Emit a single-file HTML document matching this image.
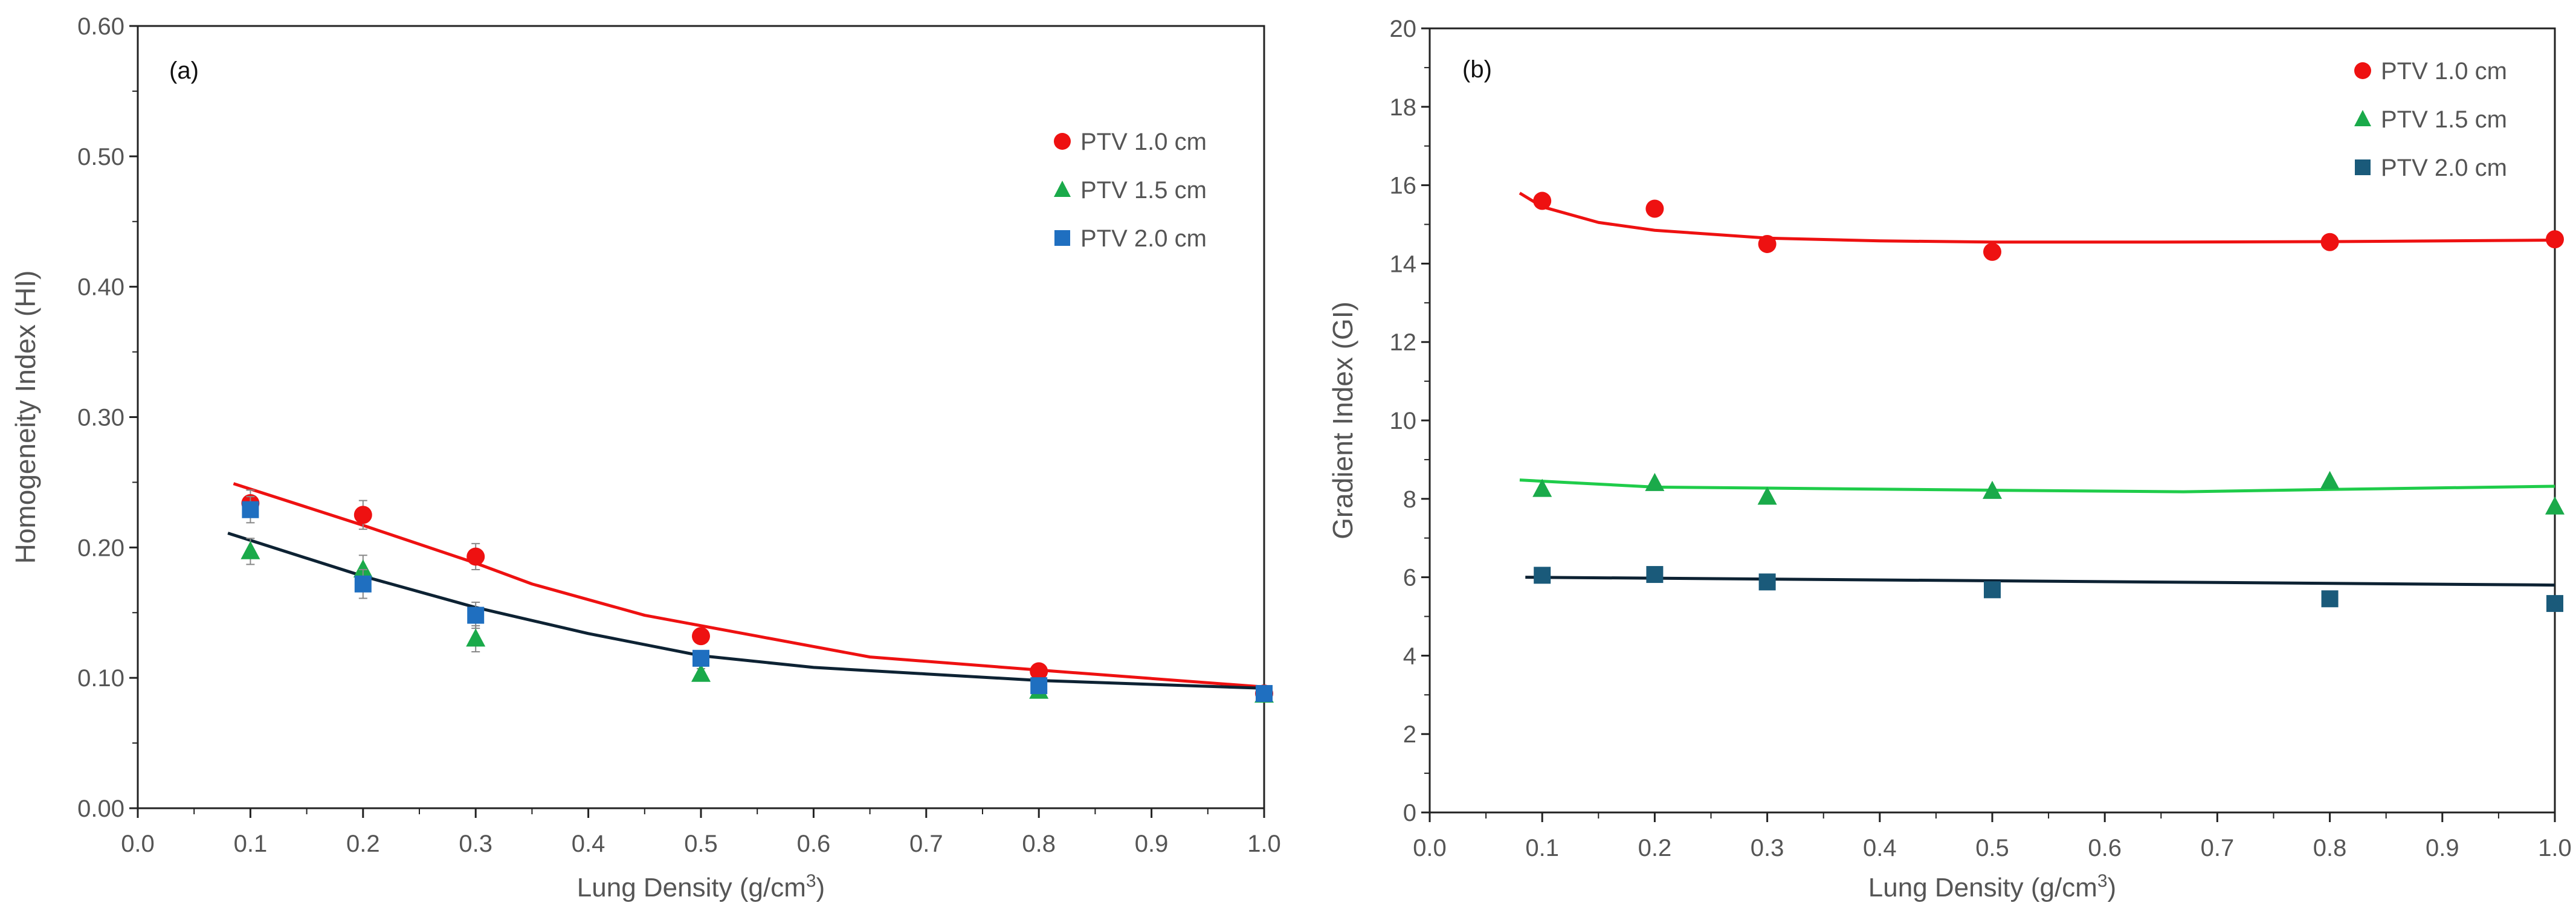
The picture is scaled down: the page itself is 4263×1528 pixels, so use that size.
<!DOCTYPE html>
<html><head><meta charset="utf-8"><style>
body{margin:0;background:#fff}
svg{display:block;font-family:"Liberation Sans",sans-serif}
</style></head><body>
<svg id="c" width="4263" height="1528" viewBox="0 0 4263 1528" xmlns="http://www.w3.org/2000/svg"></svg>
<script>
const xCats=[0.1,0.2,0.3,0.5,0.8,1.0];
const hiPtv10=[0.234,0.225,0.193,0.132,0.105,0.088];
const hiPtv15=[0.197,0.183,0.130,0.103,0.090,0.087];
const hiPtv20=[0.229,0.172,0.148,0.115,0.094,0.088];
const hiErr=[0.010,0.011,0.010,0.004,0.003,0.003];
const hiFitX10=[0.085,0.2,0.3,0.35,0.45,0.55,0.65,0.8,1.0];
const hiFitY10=[0.249,0.217,0.188,0.172,0.148,0.132,0.116,0.106,0.093];
const hiFitX20=[0.08,0.2,0.3,0.4,0.5,0.6,0.7,0.8,0.9,1.0];
const hiFitY20=[0.211,0.178,0.154,0.134,0.117,0.108,0.103,0.098,0.095,0.092];
const giPtv10=[15.6,15.4,14.5,14.3,14.55,14.62];
const giPtv15=[8.25,8.4,8.05,8.2,8.45,7.8];
const giPtv20=[6.05,6.07,5.88,5.68,5.45,5.33];
const giFitX10=[0.08,0.1,0.15,0.2,0.3,0.4,0.5,0.65,0.8,1.0];
const giFitY10=[15.8,15.45,15.05,14.85,14.65,14.58,14.55,14.55,14.56,14.6];
const giFitX15=[0.08,0.2,0.5,0.67,0.8,1.0];
const giFitY15=[8.48,8.3,8.22,8.18,8.24,8.32];
const giFitX20=[0.085,1.0];
const giFitY20=[6.0,5.8];
const xTicks=[0,0.1,0.2,0.3,0.4,0.5,0.6,0.7,0.8,0.9,1.0];
const hiTicks=[0,0.1,0.2,0.3,0.4,0.5,0.6];
const giTicks=[0,2,4,6,8,10,12,14,16,18,20];
const legendLabels=["PTV 1.0 cm","PTV 1.5 cm","PTV 2.0 cm"];

const NS="http://www.w3.org/2000/svg";
const svg=document.getElementById('c');
function mk(tag,attrs,parent,text){const e=document.createElementNS(NS,tag);for(const k in attrs)e.setAttribute(k,attrs[k]);if(text!==undefined)e.textContent=text;(parent||svg).appendChild(e);return e;}

function panel(p){
  const g=mk('g',{});
  
  
  const sx=v=>p.x0+(v-0)/(1-0)*(p.x1-p.x0);
  const sy=v=>p.y1-(v-p.ymin)/(p.ymax-p.ymin)*(p.y1-p.y0);
  const frame=mk('rect',{x:p.x0,y:p.y0,width:p.x1-p.x0,height:p.y1-p.y0,fill:'none',stroke:'#222','stroke-width':3},g);
  
  
  for(let i=0;i<p.yt.length;i++){
    const v=p.yt[i];const y=sy(v);
    mk('line',{x1:p.x0-14,x2:p.x0,y1:y,y2:y,stroke:'#222','stroke-width':3},g);
    const t=mk('text',{x:p.x0-22,y:y+14,'text-anchor':'end','font-size':40,fill:'#555'},g,p.fmt(v));
    
    
    if(i<p.yt.length-1){const ym=sy((v+p.yt[i+1])/2);mk('line',{x1:p.x0-9,x2:p.x0,y1:ym,y2:ym,stroke:'#222','stroke-width':2},g);}
  }
  for(let i=0;i<xTicks.length;i++){
    const v=xTicks[i];const x=sx(v);
    mk('line',{x1:x,x2:x,y1:p.y1,y2:p.y1+16,stroke:'#222','stroke-width':3},g);
    const t=mk('text',{x:x,y:p.y1+72,'text-anchor':'middle','font-size':40,fill:'#555'},g,v.toFixed(1));
    
    
    if(i<xTicks.length-1){const xm=sx(v+0.05);mk('line',{x1:xm,x2:xm,y1:p.y1,y2:p.y1+10,stroke:'#222','stroke-width':2},g);}
  }
  const xt=mk('text',{x:(p.x0+p.x1)/2,y:1484,'text-anchor':'middle','font-size':44,fill:'#555'},g);
  
  
  xt.innerHTML='Lung Density (g/cm<tspan baseline-shift="super" font-size="30">3</tspan>)';
  const yt=mk('text',{x:p.ytx,y:(p.y0+p.y1)/2,'text-anchor':'middle','font-size':46,fill:'#555',transform:`rotate(-90 ${p.ytx} ${(p.y0+p.y1)/2})`},g,p.ytitle);
  
  
  const lb=mk('text',{x:p.lx,y:p.ly,'font-size':40,fill:'#111'},g,p.label);
  
  
  p.fits.forEach(f=>{
    const d=f.xs.map((x,i)=>(i?'L':'M')+sx(x)+','+sy(f.ys[i])).join(' ');
    const l=mk('path',{d:d,fill:'none',stroke:f.c,'stroke-width':5,'stroke-linejoin':'round'},g);
    
    
  });
  const colors=['#ee1111','#1aaa4a',p.sqc];
  p.series.forEach((s,si)=>{
    s.forEach((v,i)=>{
      const x=sx(xCats[i]),y=sy(v);
      if(p.err){const e=p.err[i];const ya=sy(v+e),yb=sy(v-e);
        mk('path',{d:`M${x},${ya}V${yb}M${x-7},${ya}H${x+7}M${x-7},${yb}H${x+7}`,stroke:'#888','stroke-width':2,fill:'none'},g);}
      let m;
      if(si===0)m=mk('circle',{cx:x,cy:y,r:15,fill:colors[0]},g);
      else if(si===1)m=mk('polygon',{points:`${x},${y-17} ${x-16},${y+13} ${x+16},${y+13}`,fill:colors[1]},g);
      else m=mk('rect',{x:x-14,y:y-14,width:28,height:28,fill:colors[2]},g);
      
      
    });
  });
  legendLabels.forEach((lab,i)=>{
    const y=p.legY[i],x=p.legX;
    let m;
    if(i===0)m=mk('circle',{cx:x,cy:y,r:14,fill:colors[0]},g);
    else if(i===1)m=mk('polygon',{points:`${x},${y-15} ${x-14},${y+12} ${x+14},${y+12}`,fill:colors[1]},g);
    else m=mk('rect',{x:x-13,y:y-13,width:26,height:26,fill:colors[2]},g);
    
    
    const t=mk('text',{x:x+30,y:y+14,'font-size':40,fill:'#555'},g,lab);
    
    
  });
}
panel({name:'panel-a-homogeneity',x0:228,x1:2092,y0:43,y1:1338,ymin:0,ymax:0.6,yt:hiTicks,fmt:v=>v.toFixed(2),
  ytitle:'Homogeneity Index (HI)',ytx:58,label:'(a)',lx:280,ly:130,
  series:[hiPtv10,hiPtv15,hiPtv20],err:hiErr,sqc:'#1f6fc0',
  fits:[{xs:hiFitX10,ys:hiFitY10,c:'#ee1111'},{xs:hiFitX20,ys:hiFitY20,c:'#0d2233'}],
  legX:1758,legY:[234,314,394]});
panel({name:'panel-b-gradient',x0:2366,x1:4228,y0:47,y1:1345,ymin:0,ymax:20,yt:giTicks,fmt:v=>String(v),
  ytitle:'Gradient Index (GI)',ytx:2238,label:'(b)',lx:2420,ly:128,
  series:[giPtv10,giPtv15,giPtv20],err:null,sqc:'#1a5a7a',
  fits:[{xs:giFitX10,ys:giFitY10,c:'#ee1111'},{xs:giFitX15,ys:giFitY15,c:'#1fcc4a'},{xs:giFitX20,ys:giFitY20,c:'#0d2233'}],
  legX:3910,legY:[117,197,277]});
</script>
</body></html>
